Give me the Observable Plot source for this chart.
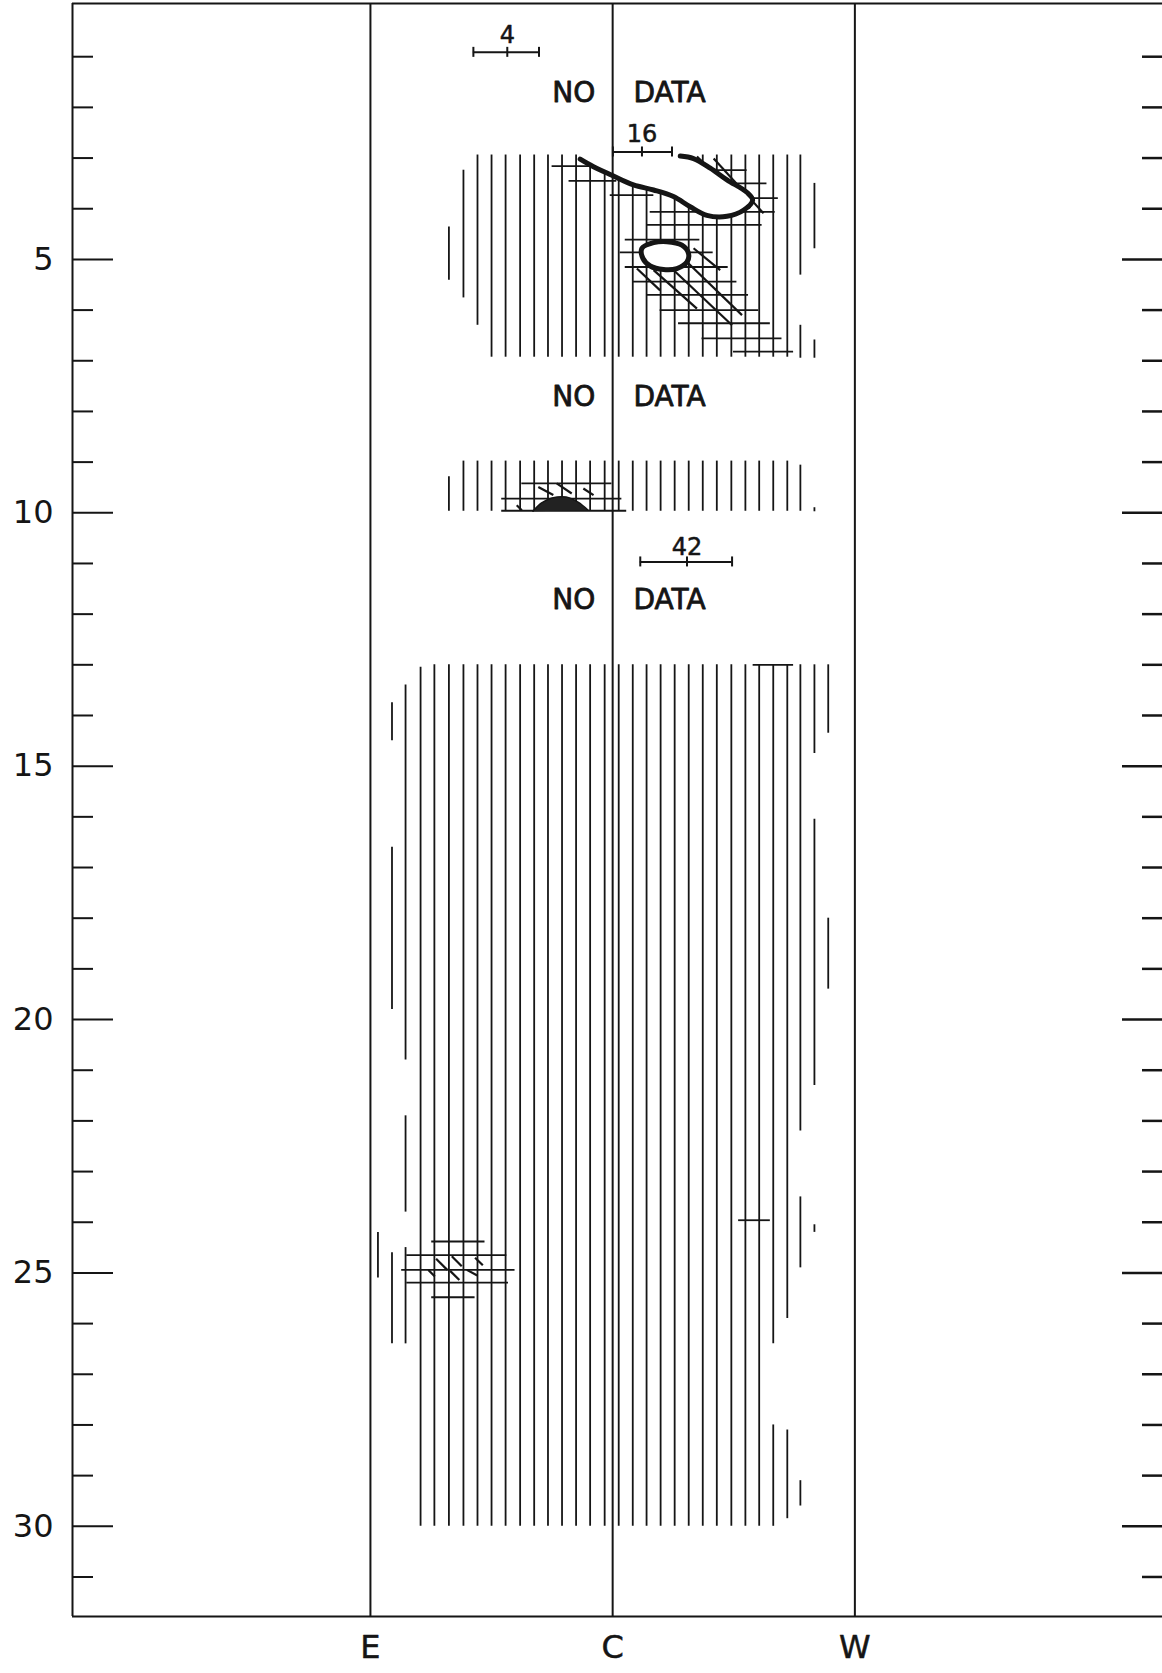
<!DOCTYPE html>
<html>
<head>
<meta charset="utf-8">
<script src="https://cdn.jsdelivr.net/npm/d3@7"></script>
<script src="https://cdn.jsdelivr.net/npm/@observablehq/plot@0.6"></script>
<style>
  html, body { margin: 0; padding: 0; background: #fff; }
  #chart svg { display: block; }
</style>
</head>
<body>
<div id="chart"></div>
<script>
// ---------------- data ----------------
// horizontal position: E = -1, C = 0, W = 1 ; vertical: levels 0..31 (increasing downward)
const xCategories = ["E", "C", "W"];
const xCategoryPos = [-1, 0, 1];
const xDomain = [-2.23, 2.27];
const yDomain = [-0.05, 31.78];

const yMinorTicks = [1,2,3,4,6,7,8,9,11,12,13,14,16,17,18,19,21,22,23,24,26,27,28,29,31];
const yMajorTicks = [5,10,15,20,25,30];
const yTickLabels = ["5","10","15","20","25","30"];

// x positions of the vertical hatch columns
const hatchColumnsX = [-0.969,-0.911,-0.855,-0.793,-0.736,-0.676,-0.616,-0.558,-0.500,-0.442,
  -0.382,-0.324,-0.267,-0.209,-0.151,-0.093,-0.033,0.025,0.083,0.140,0.198,0.256,0.314,0.372,
  0.430,0.490,0.548,0.605,0.663,0.721,0.775,0.833,0.890];

// vertical hatch segments: [first column, last column, y from, y to]
const hatchTop = [[5,5,4.36,5.41],[6,6,3.24,5.76],[7,7,2.94,6.30],[8,14,2.94,6.93],
  [15,22,3.05,6.93],[23,29,2.94,6.93],
  [30,30,2.94,5.31],[30,30,6.30,6.95],[31,31,3.50,4.79],[31,31,6.59,6.95]];
const hatchMid = [[5,5,9.29,9.97],[6,29,8.98,9.97],[30,30,9.06,9.97],[31,31,9.90,9.98]];
const hatchBottom = [[0,0,24.2,25.1],[1,1,13.75,14.5],[1,1,16.6,19.8],[1,1,24.6,26.4],
  [2,2,13.4,20.8],[2,2,21.9,23.8],[2,2,24.5,26.4],[3,3,13.05,30.0],[4,27,13.0,30.0],
  [28,28,13.0,26.4],[28,28,28.0,30.0],[29,29,13.0,25.9],[29,29,28.1,29.85],
  [30,30,13.0,22.2],[30,30,23.5,24.9],[30,30,29.1,29.6],
  [31,31,13.0,14.75],[31,31,16.05,21.3],[31,31,24.05,24.2],
  [32,32,13.0,14.35],[32,32,18.0,19.4]];

// horizontal cross-hatch segments: [y, x from, x to]
const crossTop = [[3.16,-0.25,-0.05],[3.45,-0.18,0.017],[3.73,-0.01,0.17],[3.24,0.39,0.555],
  [3.50,0.444,0.637],[3.79,0.527,0.684],[4.06,0.155,0.671],[4.32,0.141,0.617],[4.61,0.052,0.36],
  [4.86,0.031,0.415],[5.15,0.052,0.477],[5.44,0.085,0.513],[5.70,0.141,0.561],[6.00,0.196,0.603],
  [6.26,0.272,0.651],[6.56,0.369,0.699],[6.82,0.499,0.747]];
const crossMid = [[9.42,-0.375,-0.003],[9.72,-0.458,0.038],[9.96,-0.458,0.058]];
const crossBottom = [[24.38,-0.747,-0.527],[24.65,-0.850,-0.437],[24.94,-0.871,-0.403],
  [25.19,-0.850,-0.430],[25.48,-0.747,-0.568],[13.0,0.58,0.747],[23.96,0.52,0.651]];

// diagonal hatch strokes: [x1, y1, x2, y2]
const diagonals = [[0.348,2.97,0.568,3.99],[0.417,3.01,0.623,4.09],
  [0.100,5.18,0.196,5.61],[0.169,5.21,0.348,5.97],[0.251,5.21,0.493,6.30],
  [0.307,5.05,0.534,6.10],[0.334,4.78,0.444,5.21],
  [-0.307,9.49,-0.245,9.65],[-0.231,9.42,-0.169,9.62],[-0.121,9.52,-0.079,9.65],[-0.396,9.85,-0.375,9.95],
  [-0.729,24.72,-0.683,24.94],[-0.664,24.67,-0.623,24.87],[-0.568,24.70,-0.536,24.85],
  [-0.761,24.94,-0.734,25.07],[-0.671,24.96,-0.633,25.14],[-0.602,24.94,-0.559,25.05]];

// contoured cells
const tongue = [[-0.134,3.02],[-0.079,3.17],[-0.003,3.34],[0.086,3.53],[0.169,3.63],[0.251,3.76],
  [0.320,3.96],[0.389,4.13],[0.472,4.15],[0.540,4.03],[0.578,3.83],[0.555,3.68],[0.472,3.43],
  [0.403,3.20],[0.334,3.01],[0.279,2.96]];
const ellipse = [[0.121,4.78],[0.169,4.67],[0.224,4.65],[0.286,4.72],[0.313,4.88],[0.307,5.05],
  [0.265,5.18],[0.210,5.20],[0.155,5.13],[0.125,4.98]];
const blob = [[-0.329,9.97],[-0.295,9.81],[-0.250,9.71],[-0.192,9.69],[-0.143,9.79],[-0.101,9.95]];

// scale bars
const scaleLabels = ["4","16","42"];
const scaleX1 = [-0.575, 0.001, 0.114];
const scaleXMid = [-0.435, 0.121, 0.307];
const scaleX2 = [-0.304, 0.245, 0.493];
const scaleY = [0.914, 2.88, 10.97];
const scaleLabelY = [0.58, 2.53, 10.68];

// "NO DATA" annotations
const noDataY = [1.72, 7.72, 11.72];
const noX = -0.072;
const dataX = 0.086;

// ---------------- build tables ----------------
const expand = rows => rows.flatMap(([c0, c1, y1, y2]) =>
  d3.range(c0, c1 + 1).map(c => ({x: hatchColumnsX[c], y1, y2})));
const vSegs = [...expand(hatchTop), ...expand(hatchMid), ...expand(hatchBottom)];
const hSegs = [...crossTop, ...crossMid, ...crossBottom].map(([y, x1, x2]) => ({y, x1, x2}));
const dSegs = diagonals.map(([x1, y1, x2, y2]) => ({x1, y1, x2, y2}));
const pts = a => a.map(([x, y]) => ({x, y}));
const bars = scaleLabels.map((t, i) => ({t, x1: scaleX1[i], x2: scaleX2[i], xm: scaleXMid[i], y: scaleY[i], ly: scaleLabelY[i]}));
const barTicks = bars.flatMap(b => [b.x1, b.xm, b.x2].map(x => ({x, y: b.y})));

const W = 1162, H = 1673, ML = 72, MR = 0, MT = 3, MB = 57;
const innerW = W - ML - MR;
const ink = "#151515";

const chart = Plot.plot({
  width: W, height: H,
  marginLeft: ML, marginRight: MR, marginTop: MT, marginBottom: MB,
  x: {domain: xDomain, axis: null},
  y: {domain: yDomain, reverse: true, axis: null},
  style: {background: "#fff", fontFamily: "DejaVu Sans, sans-serif", color: ink},
  marks: [
    // frame
    Plot.ruleY([yDomain[0]], {stroke: ink, strokeWidth: 2}),
    Plot.ruleY([yDomain[1]], {stroke: ink, strokeWidth: 2}),
    Plot.ruleX([xDomain[0]], {stroke: ink, strokeWidth: 2}),
    // left ticks
    Plot.tickY(yMinorTicks, {y: d => d, stroke: ink, strokeWidth: 2, insetRight: innerW - 21}),
    Plot.tickY(yMajorTicks, {y: d => d, stroke: ink, strokeWidth: 2, insetRight: innerW - 41}),
    // right ticks
    Plot.tickY(yMinorTicks, {y: d => d, stroke: ink, strokeWidth: 2.5, insetLeft: innerW - 20}),
    Plot.tickY(yMajorTicks, {y: d => d, stroke: ink, strokeWidth: 2.5, insetLeft: innerW - 40}),
    // vertical hatching
    Plot.ruleX(vSegs, {x: "x", y1: "y1", y2: "y2", stroke: ink, strokeWidth: 1.8}),
    // horizontal cross hatching
    Plot.ruleY(hSegs, {y: "y", x1: "x1", x2: "x2", stroke: ink, strokeWidth: 1.8}),
    // diagonal hatching
    Plot.link(dSegs, {x1: "x1", y1: "y1", x2: "x2", y2: "y2", stroke: ink, strokeWidth: 2.2}),
    // contoured cells
    Plot.line(pts(tongue), {x: "x", y: "y", curve: "catmull-rom", fill: "#fff", stroke: "none"}),
    Plot.line(pts(tongue), {x: "x", y: "y", curve: "catmull-rom", stroke: ink, strokeWidth: 5}),
    Plot.line(pts(ellipse), {x: "x", y: "y", curve: "catmull-rom-closed", fill: "#fff", stroke: ink, strokeWidth: 5}),
    Plot.line(pts(blob), {x: "x", y: "y", curve: "catmull-rom", fill: "#222", stroke: ink, strokeWidth: 1.5}),
    // E, C, W lines (drawn over the cells, as in the original)
    Plot.ruleX(xCategoryPos, {stroke: ink, strokeWidth: 2}),
    // scale bars
    Plot.ruleY(bars, {y: "y", x1: "x1", x2: "x2", stroke: ink, strokeWidth: 2}),
    Plot.ruleX(barTicks, {x: "x", y1: "y", y2: "y", insetTop: -5, insetBottom: -5, stroke: ink, strokeWidth: 2}),
    Plot.text(bars, {x: "xm", y: "ly", text: "t", fontSize: 24, fill: ink, stroke: ink, strokeWidth: 0.5}),
    // NO DATA
    Plot.text(noDataY, {x: noX, y: d => d, text: () => "NO", textAnchor: "end", fontSize: 28, fill: ink, stroke: ink, strokeWidth: 0.8}),
    Plot.text(noDataY, {x: dataX, y: d => d, text: () => "DATA", textAnchor: "start", fontSize: 28, fill: ink, stroke: ink, strokeWidth: 0.8}),
    // axis labels
    Plot.text(yMajorTicks, {y: d => d, text: (d, i) => yTickLabels[i], frameAnchor: "left", dx: -19, textAnchor: "end", fontSize: 32, fill: ink}),
    Plot.text(xCategories, {x: (d, i) => xCategoryPos[i], text: d => d, frameAnchor: "bottom", dy: 41, fontSize: 32, fill: ink, stroke: ink, strokeWidth: 0.5})
  ]
});
document.getElementById("chart").appendChild(chart);
</script>
</body>
</html>
